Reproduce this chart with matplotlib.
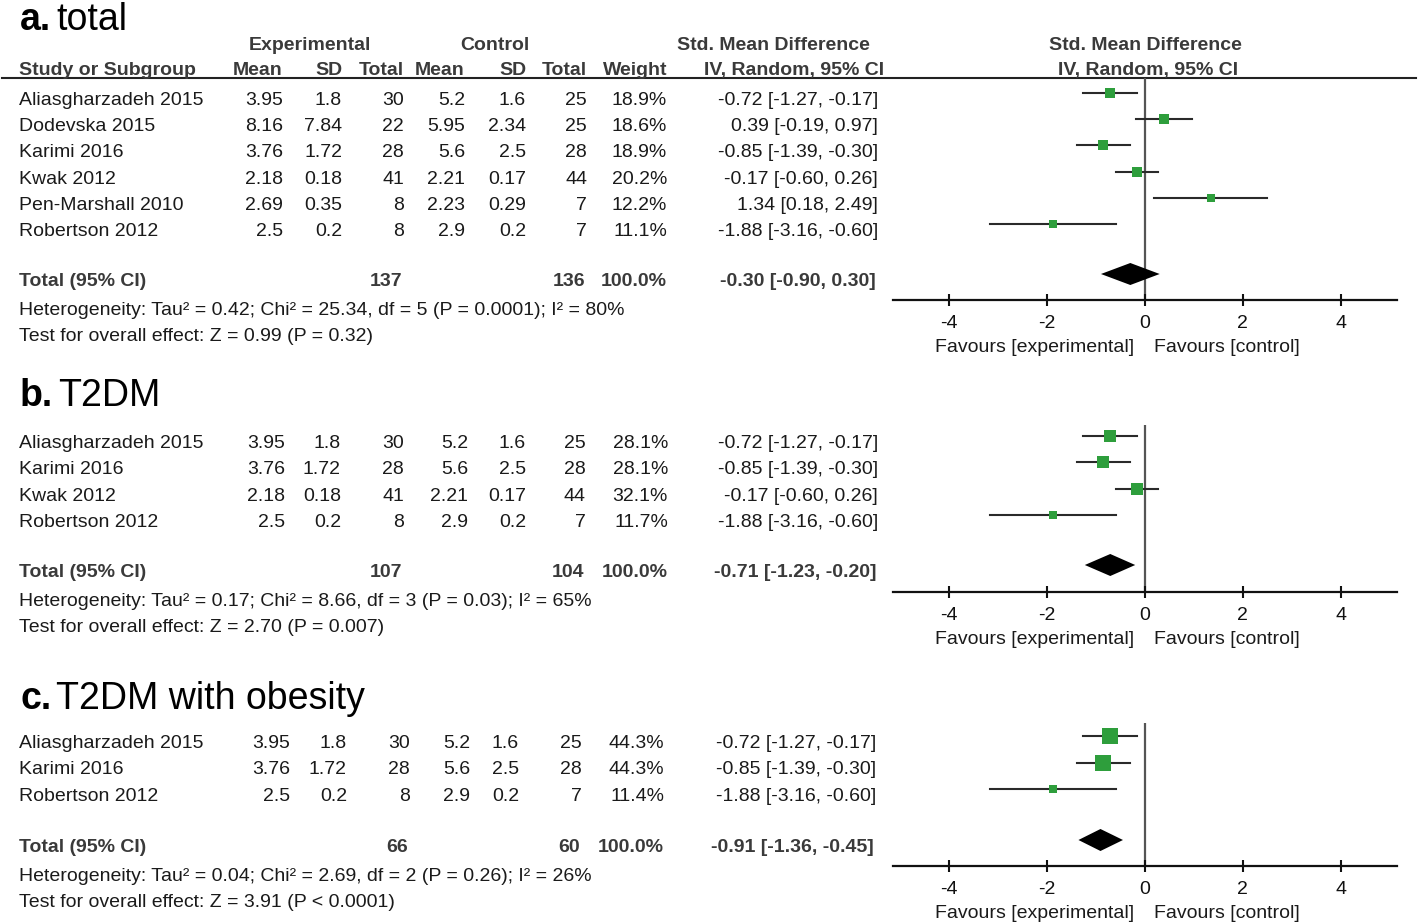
import matplotlib
matplotlib.use('Agg')
import matplotlib.pyplot as plt

plt.rcParams['font.family'] = ['Liberation Sans', 'DejaVu Sans']

W, H = 1418, 924

# study level data
studies = ["Aliasgharzadeh 2015", "Dodevska 2015", "Karimi 2016", "Kwak 2012",
           "Pen-Marshall 2010", "Robertson 2012"]
exp_mean = [3.95, 8.16, 3.76, 2.18, 2.69, 2.5]
exp_sd = [1.8, 7.84, 1.72, 0.18, 0.35, 0.2]
exp_n = [30, 22, 28, 41, 8, 8]
ctl_mean = [5.2, 5.95, 5.6, 2.21, 2.23, 2.9]
ctl_sd = [1.6, 2.34, 2.5, 0.17, 0.29, 0.2]
ctl_n = [25, 25, 28, 44, 7, 7]
smd = [-0.72, 0.39, -0.85, -0.17, 1.34, -1.88]
ci_lo = [-1.27, -0.19, -1.39, -0.60, 0.18, -3.16]
ci_hi = [-0.17, 0.97, -0.30, 0.26, 2.49, -0.60]

# subgroups
panel_labels = ["a.", "b.", "c."]
panel_titles = ["total", "T2DM", "T2DM with obesity"]
panel_idx = [[0, 1, 2, 3, 4, 5], [0, 2, 3, 5], [0, 2, 5]]
panel_weights = [[18.9, 18.6, 18.9, 20.2, 12.2, 11.1],
                 [28.1, 28.1, 32.1, 11.7],
                 [44.3, 44.3, 11.4]]
total_exp = [137, 107, 66]
total_ctl = [136, 104, 60]
pooled = [-0.30, -0.71, -0.91]
pooled_lo = [-0.90, -1.23, -1.36]
pooled_hi = [0.30, -0.20, -0.45]
heterogeneity = ["Heterogeneity: Tau\u00b2 = 0.42; Chi\u00b2 = 25.34, df = 5 (P = 0.0001); I\u00b2 = 80%",
                 "Heterogeneity: Tau\u00b2 = 0.17; Chi\u00b2 = 8.66, df = 3 (P = 0.03); I\u00b2 = 65%",
                 "Heterogeneity: Tau\u00b2 = 0.04; Chi\u00b2 = 2.69, df = 2 (P = 0.26); I\u00b2 = 26%"]
overall = ["Test for overall effect: Z = 0.99 (P = 0.32)",
           "Test for overall effect: Z = 2.70 (P = 0.007)",
           "Test for overall effect: Z = 3.91 (P < 0.0001)"]
ticks = [-4, -2, 0, 2, 4]

# layout (pixels, baselines)
title_y = [30, 406, 709]
row0_y = [105, 448, 748]
row_h = [26.2, 26.3, 26.5]
total_y = [286, 577, 852]
forest_top = [78, 425, 723]
forest_axis = [300, 592, 866]
cols = [[283, 342, 404, 465, 526, 587, 667, 878],
        [285, 341, 404, 468, 526, 586, 668, 878],
        [290, 347, 410, 470, 519, 582, 664, 876]]

FS = 14
DARK = '#1a1a1a'
HEAD = '#3a3a3a'
GREEN = '#2e9e3c'

fig = plt.figure(figsize=(W / 100, H / 100), dpi=100)
canvas = fig.add_axes([0, 0, 1, 1])
canvas.set_xlim(0, W)
canvas.set_ylim(H, 0)
canvas.axis('off')


def txt(x, y, s, ha='left', bold=False, color=DARK, size=FS):
    return canvas.text(x, y, s, ha=ha, va='baseline', fontsize=size,
                       fontweight='bold' if bold else 'normal', color=color)


# header of the table (panel a only)
for x, s in [(310, "Experimental"), (495, "Control"), (773, "Std. Mean Difference"),
             (1145, "Std. Mean Difference")]:
    txt(x, 50, s, ha='center', bold=True, color=HEAD)
txt(19, 75, "Study or Subgroup", bold=True, color=HEAD)
for x, s in zip(cols[0][:7], ["Mean", "SD", "Total", "Mean", "SD", "Total", "Weight"]):
    txt(x, 75, s, ha='right', bold=True, color=HEAD)
txt(794, 75, "IV, Random, 95% CI", ha='center', bold=True, color=HEAD)
txt(1148, 75, "IV, Random, 95% CI", ha='center', bold=True, color=HEAD)
canvas.plot([2, 1416], [78, 78], color='#222222', lw=1.5)

renderer = fig.canvas.get_renderer()

for p in range(3):
    # title
    t = txt(20, title_y[p], panel_labels[p], bold=True, color='black', size=27)
    bb = t.get_window_extent(renderer)
    txt(bb.x1 + 5, title_y[p], panel_titles[p], color='black', size=27)

    c = cols[p]
    ys = [row0_y[p] + i * row_h[p] for i in range(len(panel_idx[p]))]
    for i, k in enumerate(panel_idx[p]):
        y = ys[i]
        txt(19, y, studies[k])
        vals = [exp_mean[k], exp_sd[k], exp_n[k], ctl_mean[k], ctl_sd[k], ctl_n[k],
                f"{panel_weights[p][i]:.1f}%",
                f"{smd[k]:.2f} [{ci_lo[k]:.2f}, {ci_hi[k]:.2f}]"]
        for x, v in zip(c, vals):
            txt(x, y, str(v), ha='right')

    ty = total_y[p]
    txt(19, ty, "Total (95% CI)", bold=True, color=HEAD)
    txt(c[2] - 2, ty, str(total_exp[p]), ha='right', bold=True, color=HEAD)
    txt(c[5] - 2, ty, str(total_ctl[p]), ha='right', bold=True, color=HEAD)
    txt(c[6], ty, "100.0%", ha='right', bold=True, color=HEAD)
    txt(c[7] - 2, ty, f"{pooled[p]:.2f} [{pooled_lo[p]:.2f}, {pooled_hi[p]:.2f}]",
        ha='right', bold=True, color=HEAD)
    txt(19, ty + 29, heterogeneity[p])
    txt(19, ty + 55, overall[p])

    # forest plot
    top, bot = forest_top[p], forest_axis[p]
    ax = fig.add_axes([893 / W, 1 - bot / H, 504 / W, (bot - top) / H])
    ax.set_xlim(-5.15, 5.15)
    ax.set_ylim(bot, top)
    ax.patch.set_alpha(0)
    for s in ['top', 'left', 'right']:
        ax.spines[s].set_visible(False)
    ax.spines['bottom'].set_linewidth(1.6)
    ax.spines['bottom'].set_color('#111111')
    ax.set_yticks([])
    ax.set_xticks(ticks)
    ax.set_xticklabels([str(v) for v in ticks])
    ax.tick_params(axis='x', direction='inout', length=9, width=1.5,
                   labelsize=FS, pad=6, colors='#111111')
    ax.axvline(0, color='#555555', lw=1.6, zorder=1)

    for i, k in enumerate(panel_idx[p]):
        ym = ys[i] - 12
        ax.plot([ci_lo[k], ci_hi[k]], [ym, ym], color='#2a2a2a', lw=1.5, zorder=2)
        side = 4.2 + 0.27 * panel_weights[p][i]
        ax.plot(smd[k], ym, marker='s', ms=side * 0.72, color=GREEN,
                markeredgewidth=0, zorder=3)

    yd = ty - 12
    ax.fill([pooled_lo[p], pooled[p], pooled_hi[p], pooled[p]],
            [yd, yd - 11, yd, yd + 11], color='black', lw=0, zorder=3)

    txt(1134, bot + 52, "Favours [experimental]", ha='right')
    txt(1154, bot + 52, "Favours [control]", ha='left')

fig.savefig('out.png', dpi=100)
